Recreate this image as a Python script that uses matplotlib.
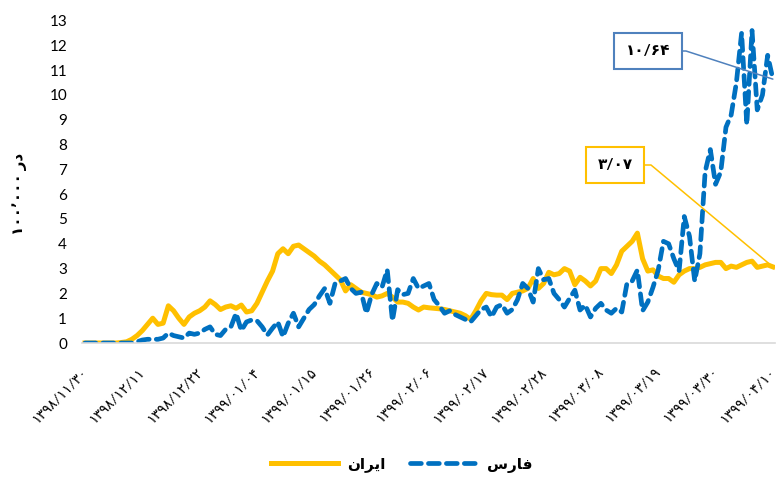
import matplotlib
matplotlib.use("Agg")
import matplotlib.pyplot as plt
import numpy as np

plt.rcParams['font.family'] = ['Lato', 'DejaVu Sans']

# daily values, 1398/11/30 .. 1399/04/10 (per 100,000)
iran = [0, 0, 0, 0, 0, 0, 0, 0.02, 0.05, 0.15,
        0.3, 0.5, 0.75, 1.0, 0.75, 0.8, 1.5, 1.3, 1.0, 0.75,
        1.05, 1.2, 1.3, 1.45, 1.7, 1.55, 1.35, 1.45, 1.5, 1.4,
        1.53, 1.25, 1.3, 1.6, 2.05, 2.5, 2.9, 3.6, 3.8, 3.6,
        3.9, 3.95, 3.8, 3.65, 3.5, 3.3, 3.15, 2.95, 2.75, 2.55,
        2.1, 2.35, 2.2, 2.05, 2.0, 1.95, 1.85, 1.9, 2.0, 1.85,
        1.65, 1.65, 1.6, 1.45, 1.33, 1.45, 1.42, 1.4, 1.38, 1.35,
        1.3, 1.25, 1.2, 1.1, 0.95, 1.3, 1.7, 2.0, 1.95, 1.93,
        1.93, 1.75, 2.0, 2.05, 2.1, 2.2, 2.6, 2.2, 2.4, 2.85,
        2.75, 2.8, 3.0, 2.9, 2.35, 2.65, 2.5, 2.3, 2.5, 3.0,
        3.0, 2.8, 3.15, 3.7, 3.9, 4.1, 4.43, 3.4, 2.9, 2.95,
        2.7, 2.6, 2.6, 2.45, 2.75, 2.9, 3.0, 3.0, 3.05, 3.15,
        3.2, 3.25, 3.25, 3.0, 3.1, 3.05, 3.15, 3.25, 3.3, 3.05,
        3.1, 3.15, 3.07]

fars = [0, 0, 0, 0, 0, 0, 0, 0, 0, 0,
        0.05, 0.12, 0.15, 0.15, 0.15, 0.2, 0.4, 0.3, 0.25, 0.2,
        0.4, 0.35, 0.4, 0.55, 0.65, 0.35, 0.3, 0.55, 0.65, 1.2,
        0.5, 0.85, 0.93, 0.9, 0.65, 0.32, 0.6, 0.85, 0.25, 0.8,
        1.2, 0.65, 1.0, 1.35, 1.55, 1.9, 2.2, 1.6, 2.4, 2.5,
        2.6, 2.2, 2.0, 2.05, 1.2, 1.95, 2.4, 2.25, 2.95, 0.9,
        2.15, 1.95, 2.0, 2.6, 2.2, 2.3, 2.4, 1.75, 1.5, 1.2,
        1.3, 1.15, 1.05, 0.95, 0.85, 1.1, 1.35, 1.45, 1.05, 1.45,
        1.55, 1.2, 1.35, 1.75, 2.4, 2.2, 1.65, 3.0, 2.55, 2.6,
        2.0, 1.75, 1.45, 1.8, 2.13, 1.33, 1.53, 1.05, 1.4, 1.6,
        1.33, 1.2, 1.4, 1.25, 2.4, 2.5, 2.94, 1.3, 1.65, 2.25,
        2.94, 4.1, 4.0, 3.4, 2.9, 5.1, 4.3, 2.5, 3.6, 6.9,
        7.8, 6.4, 6.9, 8.7, 9.2, 10.5, 12.5, 8.8, 12.6, 9.4,
        10.0, 11.6, 10.64]

tick_labels = ['۱۳۹۸/۱۱/۳۰', '۱۳۹۸/۱۲/۱۱', '۱۳۹۸/۱۲/۲۲', '۱۳۹۹/۰۱/۰۴',
               '۱۳۹۹/۰۱/۱۵', '۱۳۹۹/۰۱/۲۶', '۱۳۹۹/۰۲/۰۶', '۱۳۹۹/۰۲/۱۷',
               '۱۳۹۹/۰۲/۲۸', '۱۳۹۹/۰۳/۰۸', '۱۳۹۹/۰۳/۱۹', '۱۳۹۹/۰۳/۳۰',
               '۱۳۹۹/۰۴/۱۰']
tick_step = 11

# shaped (presentation forms, visual order) since matplotlib has no bidi
label_iran = '\uFEE5\uFE8D\uFEAE\uFBFE\uFE8D'   # ایران
label_fars = '\uFEB1\uFEAD\uFE8E\uFED3'         # فارس
y_title = '۱۰۰٬۰۰۰ \uFEAD\uFEA9'                # در ۱۰۰،۰۰۰

YELLOW = '#FFC000'
BLUE = '#0070C0'


def to_fa(s):
    return s.translate(str.maketrans('0123456789.', '۰۱۲۳۴۵۶۷۸۹/'))


x = np.arange(len(iran))

fig = plt.figure(figsize=(7.8, 4.9), dpi=100)
ax = fig.add_axes([0.1056, 0.30, 0.8886, 0.659])

ax.plot(x, iran, color=YELLOW, linewidth=3.6, solid_joinstyle='round',
        label=label_iran)
ax.plot(x, fars, color=BLUE, linewidth=3.4, dashes=(2.3, 1.5),
        dash_capstyle='round', label=label_fars)

ax.set_xlim(-0.5, len(iran) - 0.5)
ax.set_ylim(0, 13.02)
ax.set_yticks(range(0, 14))
ax.tick_params(axis='y', length=0, pad=11, labelsize=11)

ticks = np.arange(0, len(iran), tick_step)
ax.set_xticks(ticks)
ax.set_xticklabels(tick_labels, rotation=45, ha='right', va='center',
                   rotation_mode='anchor', fontsize=10)
ax.tick_params(axis='x', length=0, pad=19)

for s in ['top', 'right', 'left']:
    ax.spines[s].set_visible(False)
ax.spines['bottom'].set_color('#D9D9D9')
ax.spines['bottom'].set_linewidth(1.2)

fig.text(0.025, 0.605, y_title, rotation=90, ha='center', va='center',
         fontsize=11, fontweight='bold')

# callouts on the last values
ax.annotate(to_fa(f'{iran[-1]:.2f}'), xy=(x[-1], iran[-1]),
            xytext=(615, 325), textcoords='figure pixels',
            ha='center', va='center', fontsize=11, fontweight='bold',
            bbox=dict(boxstyle='square,pad=0.75', fc='white', ec=YELLOW, lw=1.5),
            arrowprops=dict(arrowstyle='-', color=YELLOW, lw=1.1, shrinkA=0, shrinkB=0,
                            connectionstyle='arc,angleA=0,armA=36,angleB=0,armB=0,rad=0'))
ax.annotate(to_fa(f'{fars[-1]:.2f}'), xy=(x[-1], fars[-1]),
            xytext=(648, 439), textcoords='figure pixels',
            ha='center', va='center', fontsize=11, fontweight='bold',
            bbox=dict(boxstyle='square,pad=0.75', fc='white', ec='#4F81BD', lw=1.5),
            arrowprops=dict(arrowstyle='-', color='#4F81BD', lw=1.1, shrinkA=0, shrinkB=0,
                            connectionstyle='arc,angleA=0,armA=38,angleB=0,armB=0,rad=0'))

fig.legend(loc='center', bbox_to_anchor=(0.515, 0.051), ncol=2, frameon=False,
           handlelength=4.4, columnspacing=1.6, handletextpad=0.6,
           prop={'size': 11, 'weight': 'bold'})

plt.savefig('out.png', dpi=100)
